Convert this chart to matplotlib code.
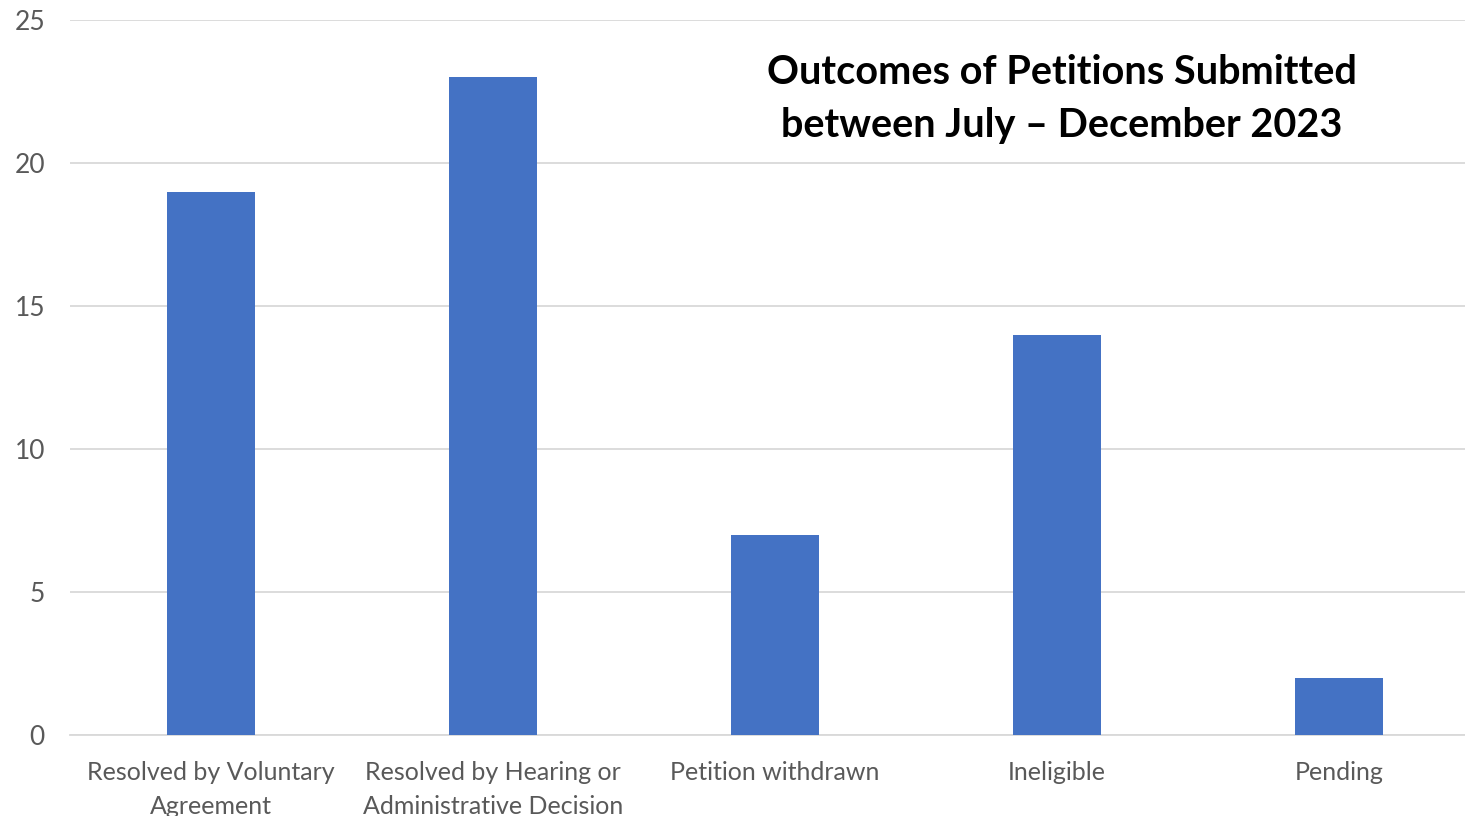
import matplotlib.pyplot as plt

categories = ['Resolved by Voluntary\nAgreement',
              'Resolved by Hearing or\nAdministrative Decision',
              'Petition withdrawn',
              'Ineligible',
              'Pending']
counts = [19, 23, 7, 14, 2]
yticks = [0, 5, 10, 15, 20, 25]
title = 'Outcomes of Petitions Submitted\nbetween July \u2013 December 2023'

plt.rcParams['font.family'] = ['Lato', 'DejaVu Sans']

fig = plt.figure(figsize=(14.65, 8.16), dpi=100)
# plot area runs a bit past the right edge, like the original crop
ax = fig.add_axes([70 / 1465, 1 - 735 / 816, 1410 / 1465, 715 / 816])

ax.bar(range(len(categories)), counts, width=0.315, color='#4472C4', zorder=3)

ax.set_xlim(-0.5, len(categories) - 0.5)
ax.set_ylim(0, 25)
ax.set_yticks(yticks)
ax.set_xticks(range(len(categories)))
ax.set_xticklabels(categories, fontsize=18, color='#595959', linespacing=1.55)
ax.tick_params(axis='y', labelsize=19, labelcolor='#595959', length=0, pad=18)
ax.tick_params(axis='x', length=0, pad=19)

ax.grid(axis='y', color='#D9D9D9', linewidth=1.3, zorder=0)
for s in ['top', 'right', 'left']:
    ax.spines[s].set_visible(False)
ax.spines['bottom'].set_color('#D9D9D9')
ax.spines['bottom'].set_linewidth(1.3)

fig.text(1062 / 1465, 1 - 99 / 816, title, ha='center', va='center',
         fontsize=28.5, fontweight='bold', color='black', linespacing=1.55)

fig.savefig('out.png', dpi=100)
